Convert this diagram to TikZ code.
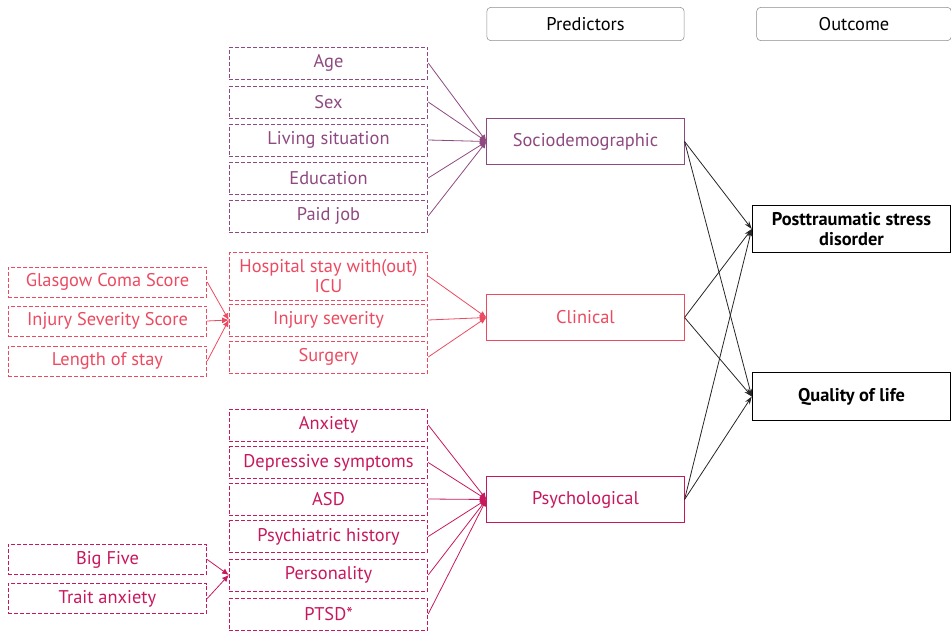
\documentclass[tikz,border=0pt]{standalone}
\usepackage{fontspec}
\setmainfont{PT Sans}
\usetikzlibrary{arrows.meta,positioning}

\definecolor{socio}{HTML}{8E4A80}
\definecolor{clin}{HTML}{EC4A60}
\definecolor{psych}{HTML}{C8185D}

\begin{document}
\begin{tikzpicture}[x=0.75pt,y=-0.75pt,
    every node/.style={font=\fontsize{13.8}{15}\selectfont, inner sep=1pt, align=center},
    headbox/.style={draw=black!45, rounded corners=3pt, minimum width=148pt, minimum height=25pt},
    groupbox/.style={draw=#1, text=#1, fill=white, line width=0.6pt, minimum width=148pt, minimum height=35pt},
    itembox/.style={draw=#1, text=#1, dashed, line width=0.6pt, dash pattern=on 3pt off 1.5pt, minimum width=149pt, minimum height=24pt},
    subbox/.style={draw=#1, text=#1, dashed, line width=0.6pt, dash pattern=on 3pt off 1.5pt, minimum width=149pt, minimum height=22.5pt},
    outbox/.style={draw=black, line width=0.6pt, font=\fontsize{13.8}{15}\selectfont\bfseries, minimum width=149pt, minimum height=35.5pt},
    feed/.style={draw=#1, line width=0.6pt, -{Latex[length=5pt,width=4.5pt]}},
    effect/.style={draw=black!85, line width=0.6pt, -{Stealth[length=6pt,width=4pt]}}
]
    \useasboundingbox (0,0) rectangle (951,631);

    % Column headers
    \node[headbox] (hpred) at (585.5,24) {Predictors};
    \node[headbox, minimum width=146pt] (hout) at (854,24) {Outcome};

    % Predictor groups
    \node[groupbox=socio] (socio) at (585.5,141.5) {Sociodemographic};
    \node[groupbox=clin] (clin) at (585.5,317.5) {Clinical};
    \node[groupbox=psych] (psych) at (585.5,499.5) {Psychological};

    % Outcomes
    \node[outbox] (ptsd) at (851.5,229) {Posttraumatic stress\\disorder};
    \node[outbox] (qol) at (851.5,396.5) {Quality of life};

    % Sociodemographic items
    \foreach \name/\y/\txt in {age/63/Age, sex/102/Sex, living/140/Living situation,
                               edu/178/Education, job/216/Paid job} {
        \node[itembox=socio] (\name) at (328.5,\y) {\txt};
        \draw[feed=socio] (\name.east) -- (socio.west);
    }

    % Clinical items
    \node[itembox=clin, minimum height=36pt] (hosp) at (328.5,276) {Hospital stay with(out)\\ICU};
    \node[itembox=clin] (injsev) at (328.5,320) {Injury severity};
    \node[itembox=clin] (surg) at (328.5,357) {Surgery};
    \foreach \name in {hosp,injsev,surg}
        \draw[feed=clin] (\name.east) -- (clin.west);

    \node[subbox=clin] (gcs) at (107.5,282) {Glasgow Coma Score};
    \node[subbox=clin] (iss) at (107.5,321) {Injury Severity Score};
    \node[subbox=clin] (los) at (107.5,361) {Length of stay};
    \foreach \name in {gcs,iss,los}
        \draw[feed=clin] (\name.east) -- (injsev.west);

    % Psychological items
    \foreach \name/\y/\txt in {anx/425/Anxiety, dep/462.5/Depressive symptoms, asd/499/ASD,
                               hist/536.5/Psychiatric history, pers/575/Personality, ptsdp/614/PTSD*} {
        \node[itembox=psych] (\name) at (328.5,\y) {\txt};
        \draw[feed=psych] (\name.east) -- (psych.west);
    }

    \node[subbox=psych] (bigfive) at (107.5,559.5) {Big Five};
    \node[subbox=psych] (trait) at (107.5,598.5) {Trait anxiety};
    \foreach \name in {bigfive,trait}
        \draw[feed=psych] (\name.east) -- (pers.west);

    % Effects on outcomes
    \foreach \src in {socio,clin,psych} {
        \draw[effect] (\src.east) -- (ptsd.west);
        \draw[effect] (\src.east) -- (qol.west);
    }
\end{tikzpicture}
\end{document}
